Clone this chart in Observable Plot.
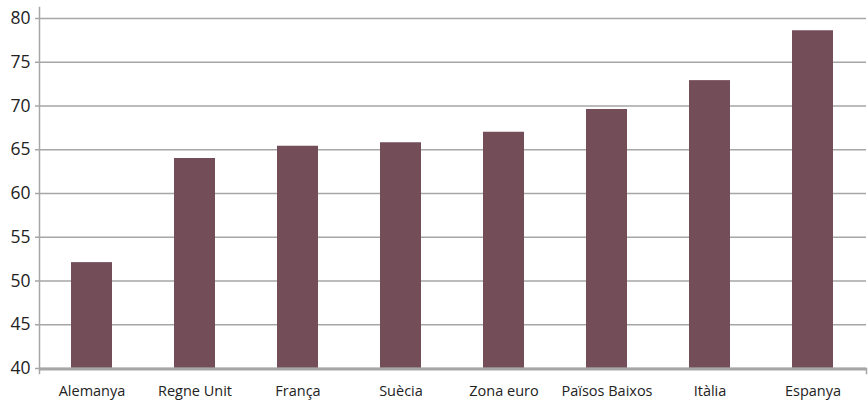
<!DOCTYPE html>
<html>
<head>
<meta charset="utf-8">
<script src="https://cdn.jsdelivr.net/npm/d3@7"></script>
<script src="https://cdn.jsdelivr.net/npm/@observablehq/plot@0.6"></script>
<style>
  html, body { margin: 0; padding: 0; background: #fff; }
  #chart svg { display: block; }
</style>
</head>
<body>
<div id="chart"></div>
<script>
const categories = ["Alemanya", "Regne Unit", "França", "Suècia", "Zona euro", "Països Baixos", "Itàlia", "Espanya"];
const values = [52.1, 64.0, 65.4, 65.8, 67.0, 69.6, 72.9, 78.6];
const yTicks = [40, 45, 50, 55, 60, 65, 70, 75, 80];

const data = categories.map((c, i) => ({category: c, value: values[i]}));
const gray = "#a6a6a6";

const chart = Plot.plot({
  width: 868,
  height: 403,
  marginLeft: 39,
  marginRight: 2,
  marginTop: 18,
  marginBottom: 35,
  style: {fontFamily: "'Open Sans', sans-serif", background: "#fff", color: "#222"},
  x: {domain: categories, paddingInner: 0.6, paddingOuter: 0.3, align: 0.5, label: null},
  y: {domain: [40, 80], label: null},
  marks: [
    Plot.ruleY(yTicks.filter(d => d > 40), {y: d => d, stroke: gray, strokeWidth: 1.5, insetLeft: -4}),
    Plot.barY(data, {x: "category", y1: 40, y2: "value", fill: "#734e59"}),
    Plot.frame({anchor: "left", stroke: gray, strokeWidth: 1.5, insetTop: -11, insetBottom: -5}),
    Plot.frame({anchor: "right", stroke: gray, strokeWidth: 1.5, insetTop: 350, insetBottom: -5}),
    Plot.ruleY([40], {stroke: gray, strokeWidth: 1.5, insetLeft: -4}),
    Plot.ruleY([40], {stroke: gray, strokeWidth: 3, dy: 0.5}),
    Plot.axisY({ticks: yTicks, tickSize: 0, tickPadding: 9, fontSize: 17.5, label: null}),
    Plot.axisX({tickSize: 0, tickPadding: 17, fontSize: 14.5, label: null})
  ]
});
document.getElementById("chart").appendChild(chart);
</script>
</body>
</html>
